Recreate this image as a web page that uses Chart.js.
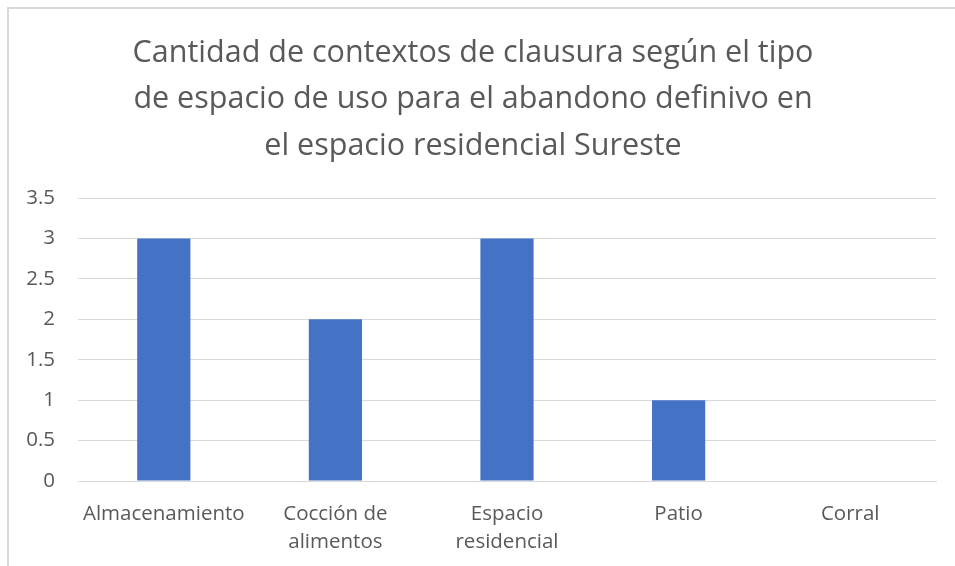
<!DOCTYPE html>
<html>
<head>
<meta charset="utf-8">
<script src="https://cdn.jsdelivr.net/npm/chart.js@4.4.1/dist/chart.umd.min.js"></script>
<style>
  html, body { margin: 0; padding: 0; background: #fff; }
  #wrap { position: relative; width: 955px; height: 566px; }
</style>
</head>
<body>
<div id="wrap"><canvas id="grafico" width="955" height="566"></canvas></div>
<script>
// Datos del gráfico
const categorias = [
  ['Almacenamiento'],
  ['Cocción de', 'alimentos'],
  ['Espacio', 'residencial'],
  ['Patio'],
  ['Corral']
];
const cantidades = [3, 2, 3, 1, 0];
const titulo = [
  'Cantidad de contextos de clausura según el tipo',
  'de espacio de uso para el abandono definivo en',
  'el espacio residencial Sureste'
];
const ejeYMax = 3.5;
const ejeYPaso = 0.5;

const gris = '#595959';
const fuente = "'Open Sans', 'Noto Sans', sans-serif";

// Marco del gráfico (borde izquierdo y superior)
const marco = {
  id: 'marco',
  beforeDraw(chart) {
    const ctx = chart.ctx;
    ctx.save();
    ctx.strokeStyle = '#d9d9d9';
    ctx.lineWidth = 2;
    ctx.beginPath();
    ctx.moveTo(8, chart.height);
    ctx.lineTo(8, 8);
    ctx.lineTo(chart.width, 8);
    ctx.stroke();
    ctx.restore();
  }
};

new Chart(document.getElementById('grafico').getContext('2d'), {
  type: 'bar',
  data: {
    labels: categorias,
    datasets: [{
      data: cantidades,
      backgroundColor: '#4472C4',
      categoryPercentage: 1,
      barPercentage: 0.31
    }]
  },
  options: {
    responsive: false,
    animation: false,
    layout: { padding: { left: 10, right: 19, top: 0, bottom: 0 } },
    plugins: {
      legend: { display: false },
      tooltip: { enabled: false },
      title: {
        display: true,
        text: titulo,
        color: gris,
        font: { family: fuente, size: 30.5, weight: 'normal', lineHeight: 46.5 / 30.5 },
        padding: { top: 30, bottom: 28.5 }
      }
    },
    scales: {
      x: {
        grid: { display: false },
        border: { color: '#d9d9d9', width: 1 },
        ticks: { color: gris, font: { family: fuente, size: 20.5, lineHeight: 28 / 20.5 }, padding: 11, maxRotation: 0 },
        afterFit(scale) { scale.height = 85; }
      },
      y: {
        min: 0,
        max: ejeYMax,
        border: { display: false },
        grid: { color: '#d9d9d9', drawTicks: false },
        ticks: {
          stepSize: ejeYPaso,
          color: gris,
          font: { family: fuente, size: 20.5 },
          padding: 23,
          callback: (valor) => String(valor)
        },
        afterFit(scale) { scale.width = 68; }
      }
    }
  },
  plugins: [marco]
});
</script>
</body>
</html>
